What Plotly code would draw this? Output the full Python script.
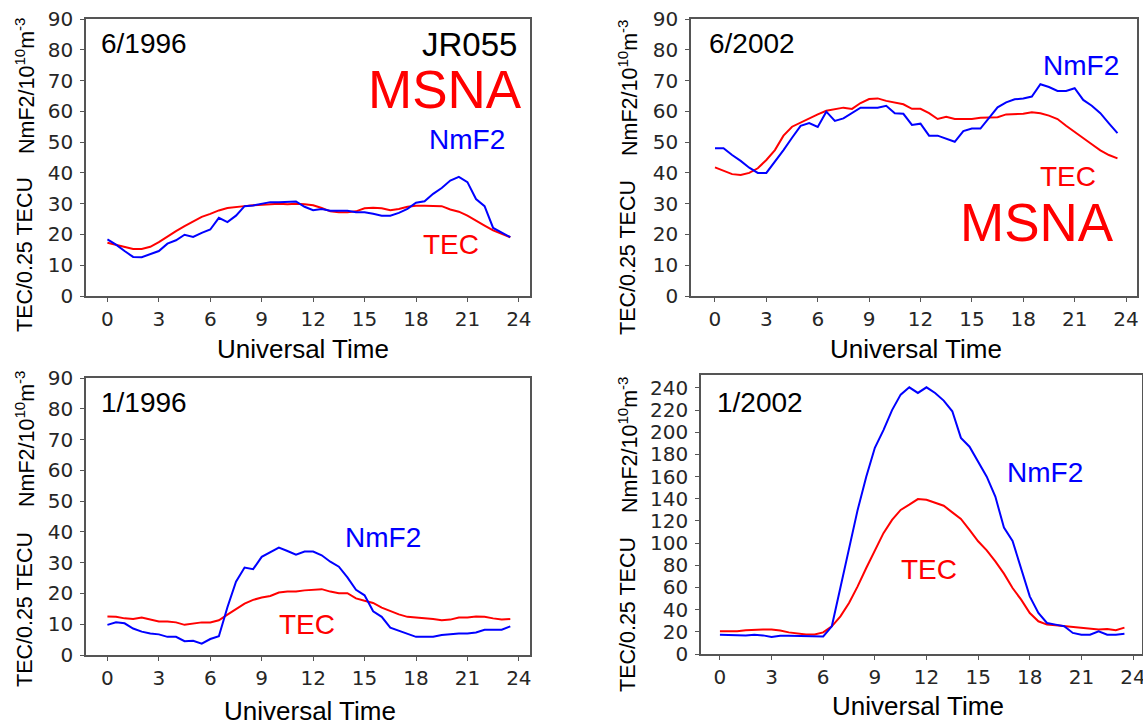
import plotly.graph_objects as go

W, H = 1143, 723

hours = [0, 0.5, 1, 1.5, 2, 2.5, 3, 3.5, 4, 4.5, 5, 5.5, 6, 6.5, 7, 7.5,
         8, 8.5, 9, 9.5, 10, 10.5, 11, 11.5, 12, 12.5, 13, 13.5, 14, 14.5, 15, 15.5,
         16, 16.5, 17, 17.5, 18, 18.5, 19, 19.5, 20, 20.5, 21, 21.5, 22, 22.5, 23, 23.5]

# 6/1996
nmf2_jun1996 = [18.4, 16.7, 14.6, 12.7, 12.6, 13.5, 14.6, 17.0, 18.1, 19.9, 19.2, 20.5,
                21.6, 25.4, 24.0, 26.1, 29.2, 29.4, 30.0, 30.5, 30.5, 30.5, 30.7, 29.0,
                27.9, 28.3, 27.7, 27.7, 27.7, 27.2, 27.2, 26.7, 26.1, 26.1, 27.0, 28.3,
                30.3, 30.8, 33.2, 35.1, 37.5, 38.7, 37.0, 31.5, 29.2, 22.1, 20.5, 19.1]
tec_jun1996 = [17.3, 16.7, 16.0, 15.3, 15.3, 16.0, 17.5, 19.4, 21.1, 22.7, 24.3, 25.7,
               26.7, 27.8, 28.6, 28.8, 29.2, 29.5, 29.7, 30.0, 30.0, 29.8, 30.0, 29.8,
               29.5, 28.6, 27.5, 27.2, 27.2, 27.5, 28.5, 28.7, 28.5, 27.9, 28.3, 29.0,
               29.3, 29.3, 29.3, 29.2, 28.1, 27.4, 26.1, 24.6, 22.9, 21.3, 20.2, 19.1]

# 6/2002
nmf2_jun2002 = [48.0, 48.0, 45.8, 43.9, 41.7, 40.0, 40.0, 43.6, 47.4, 51.4, 55.3, 56.2,
                54.9, 59.9, 56.9, 57.7, 59.4, 61.2, 61.2, 61.2, 61.8, 59.4, 59.2, 55.6,
                56.0, 52.1, 52.1, 51.0, 50.1, 53.6, 54.4, 54.4, 57.7, 61.3, 62.9, 63.9,
                64.2, 64.8, 68.8, 67.9, 66.6, 66.6, 67.5, 63.7, 61.8, 59.4, 56.1, 52.9]
tec_jun2002 = [41.8, 40.7, 39.6, 39.3, 40.0, 41.5, 44.2, 47.4, 52.1, 55.0, 56.4, 57.7,
               59.0, 60.2, 60.8, 61.2, 60.8, 62.7, 64.0, 64.2, 63.4, 62.8, 62.3, 60.8,
               60.8, 59.4, 57.5, 58.2, 57.5, 57.5, 57.5, 57.9, 57.9, 58.1, 59.0, 59.0,
               59.2, 59.7, 59.4, 58.6, 57.5, 55.3, 53.2, 51.2, 49.3, 47.3, 45.8, 44.7]

# 1/1996
nmf2_jan1996 = [9.8, 10.6, 10.3, 8.6, 7.6, 7.0, 6.7, 5.9, 5.9, 4.5, 4.6, 3.7,
                5.2, 6.1, 15.5, 23.8, 28.4, 27.9, 31.9, 33.5, 34.9, 33.8, 32.6, 33.6,
                33.6, 32.4, 30.3, 28.7, 25.2, 21.2, 19.4, 14.2, 12.4, 8.9, 7.9, 6.8,
                5.9, 5.9, 5.9, 6.5, 6.8, 7.0, 7.0, 7.3, 8.2, 8.3, 8.2, 9.3]
tec_jan1996 = [12.5, 12.4, 11.9, 11.7, 12.2, 11.5, 10.9, 10.9, 10.6, 9.8, 10.3, 10.6,
               10.6, 11.3, 13.1, 14.9, 16.7, 17.9, 18.7, 19.2, 20.3, 20.6, 20.6, 21.0,
               21.2, 21.4, 20.6, 20.1, 20.1, 18.4, 17.6, 16.9, 15.4, 14.2, 13.2, 12.4,
               12.2, 12.0, 11.7, 11.3, 11.5, 12.2, 12.2, 12.5, 12.4, 11.9, 11.5, 11.7]

# 1/2002
nmf2_jan2002 = [17.4, 17.1, 17.1, 16.8, 17.4, 16.8, 15.3, 16.5, 16.5, 16.5, 15.9, 15.9,
                15.9, 25.0, 61.0, 97.0, 130.0, 160.0, 186.0, 202.0, 220.0, 234.0, 240.6, 235.5,
                240.6, 235.5, 228.6, 219.0, 195.0, 187.0, 174.0, 160.0, 142.0, 114.0, 102.0, 76.0,
                52.0, 37.0, 28.0, 26.5, 25.0, 19.0, 17.4, 17.4, 20.5, 17.4, 17.4, 18.3]
tec_jan2002 = [20.5, 20.2, 20.5, 21.4, 22.0, 22.0, 22.0, 21.1, 19.5, 18.3, 17.7, 17.7,
               19.5, 25.0, 34.0, 46.0, 61.0, 77.6, 92.6, 109.0, 121.0, 130.0, 134.7, 139.8,
               139.2, 136.8, 133.8, 127.8, 121.8, 112.0, 101.7, 93.5, 83.6, 72.5, 59.5, 49.0,
               37.0, 29.5, 26.5, 25.9, 25.0, 24.1, 23.2, 22.9, 22.0, 22.6, 21.4, 23.8]

x_ticks = [0, 3, 6, 9, 12, 15, 18, 21, 24]
y_ticks_90 = [0, 10, 20, 30, 40, 50, 60, 70, 80, 90]
y_ticks_240 = [0, 20, 40, 60, 80, 100, 120, 140, 160, 180, 200, 220, 240]

panel_labels = ["6/1996", "6/2002", "1/1996", "1/2002"]

BLUE = "#0000ff"
RED = "#ff0000"
TXT_FONT = "Liberation Sans, Arial, sans-serif"
TICK_FONT = "DejaVu Sans, sans-serif"


def px(x):
    return x / W


def py(y):
    return 1 - y / H


# panel pixel boxes: (left, right, top, bottom), x range, y range
panels = [
    dict(box=(86, 530, 19, 296), xr=[-1.25, 24.65], yr=[0, 90], yt=y_ticks_90,
         nm=nmf2_jun1996, tec=tec_jun1996),
    dict(box=(691, 1137, 19, 296), xr=[-1.40, 24.64], yr=[0, 90], yt=y_ticks_90,
         nm=nmf2_jun2002, tec=tec_jun2002),
    dict(box=(86, 530, 378, 655), xr=[-1.25, 24.65], yr=[0, 90], yt=y_ticks_90,
         nm=nmf2_jan1996, tec=tec_jan1996),
    dict(box=(701, 1142, 375, 654), xr=[-1.10, 24.52], yr=[0, 251.7], yt=y_ticks_240,
         nm=nmf2_jan2002, tec=tec_jan2002),
]

fig = go.Figure()
layout = dict(
    template="none",
    width=W, height=H, margin=dict(l=0, r=0, t=0, b=0, pad=0, autoexpand=False),
    paper_bgcolor="white", plot_bgcolor="white", showlegend=False,
)

for i, p in enumerate(panels, start=1):
    xa = "x" if i == 1 else f"x{i}"
    ya = "y" if i == 1 else f"y{i}"
    fig.add_trace(go.Scatter(x=hours, y=p["tec"], mode="lines", xaxis=xa, yaxis=ya,
                             line=dict(color=RED, width=2)))
    fig.add_trace(go.Scatter(x=hours, y=p["nm"], mode="lines", xaxis=xa, yaxis=ya,
                             line=dict(color=BLUE, width=2)))
    l, r, t, b = p["box"]
    axcommon = dict(showgrid=False, zeroline=False, showline=True, mirror=True,
                    automargin=False,
                    linecolor="#555555", linewidth=1.5, ticks="outside", ticklen=4,
                    tickwidth=1, tickcolor="#555555", ticklabeloverflow="allow",
                    tickfont=dict(family=TICK_FONT, size=20, color="#262626"))
    layout["xaxis" if i == 1 else f"xaxis{i}"] = dict(
        axcommon, domain=[px(l), px(r)], range=p["xr"], tickvals=x_ticks,
        anchor=ya)
    layout["yaxis" if i == 1 else f"yaxis{i}"] = dict(
        axcommon, domain=[py(b), py(t)], range=p["yr"], tickvals=p["yt"],
        anchor=xa, ticklabelstandoff=3)

fig.update_layout(**layout)

ann = []


def add_text(text, x, y, size, color="black", xanchor="left", angle=0):
    ann.append(dict(text=text, x=px(x), y=py(y), xref="paper", yref="paper",
                    xanchor=xanchor, yanchor="middle", showarrow=False,
                    textangle=angle, font=dict(family=TXT_FONT, size=size, color=color)))


# panel labels
add_text(panel_labels[0], 99, 43, 28)
add_text(panel_labels[1], 707, 43, 28)
add_text(panel_labels[2], 99, 402, 28)
add_text(panel_labels[3], 715, 402, 28)

# station / series labels
add_text("JR055", 519, 44, 33, xanchor="right")
add_text("MSNA", 524, 89, 53, color=RED, xanchor="right")
add_text("NmF2", 427, 139, 28, color=BLUE)
add_text("TEC", 421, 244, 28, color=RED)

add_text("NmF2", 1041, 65, 28, color=BLUE)
add_text("TEC", 1038, 176, 28, color=RED)
add_text("MSNA", 1116, 222, 53, color=RED, xanchor="right")

add_text("NmF2", 343, 537, 28, color=BLUE)
add_text("TEC", 277, 624, 28, color=RED)

add_text("NmF2", 1005, 472, 28, color=BLUE)
add_text("TEC", 899, 569, 28, color=RED)

# x axis titles
for (xc, yc) in [(303, 349), (916, 349), (310, 711), (918, 706)]:
    add_text("Universal Time", xc, yc, 26, xanchor="center")

# y axis titles (two pieces each)
for (xc, y_tec, y_nm) in [(25, 255, 86), (628, 258, 88), (25, 610, 439), (628, 615, 445)]:
    ann.append(dict(text="TEC/0.25 TECU", x=px(xc), y=py(y_tec), xref="paper", yref="paper",
                    xanchor="center", yanchor="middle", showarrow=False, textangle=-90,
                    font=dict(family=TXT_FONT, size=21.5, color="black")))
    ann.append(dict(text="NmF2/10<sup>10</sup>m<sup>-3</sup>", x=px(xc), y=py(y_nm),
                    xref="paper", yref="paper",
                    xanchor="center", yanchor="middle", showarrow=False, textangle=-90,
                    font=dict(family=TXT_FONT, size=21.5, color="black")))

fig.update_layout(annotations=ann)
fig.write_html("out.html")
